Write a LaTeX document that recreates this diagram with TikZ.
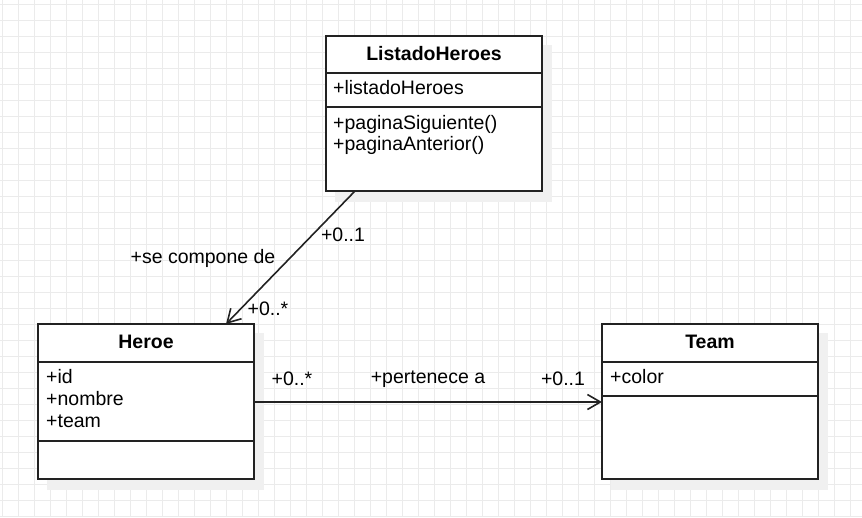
\documentclass[tikz,border=0pt]{standalone}
\usepackage{fontspec}
\setmainfont{Liberation Sans}
\usetikzlibrary{arrows.meta,calc}
\definecolor{gridc}{HTML}{EBEBEB}
\definecolor{shadowc}{HTML}{F0F0F0}
\definecolor{linec}{HTML}{222222}
\tikzset{
  classbox/.style={draw=linec, line width=1.6pt, fill=white, anchor=north west, minimum width=216pt, minimum height=155pt, inner sep=0pt, outer sep=0pt},
  sep/.style={draw=linec, line width=1.6pt},
  title/.style={font=\fontsize{19.5}{22}\selectfont\bfseries, anchor=center, inner sep=0pt},
  attr/.style={font=\fontsize{19.5}{22}\selectfont, anchor=west, inner sep=0pt},
  lbl/.style={font=\fontsize{19.5}{22}\selectfont, anchor=center, inner sep=0pt},
  conn/.style={draw=linec, line width=1.6pt, -{Straight Barb[length=13pt,width=15pt,line width=1.6pt]}},
}
\begin{document}
\begin{tikzpicture}[x=1pt,y=-1pt]
\useasboundingbox (0,0) rectangle (862,517);
% grid
\foreach \i in {0,...,54} {\draw[gridc, line width=1pt] ({2+16*\i},0) -- ({2+16*\i},517);}
\foreach \j in {0,...,32} {\draw[gridc, line width=1pt] (0,{4+16*\j}) -- (862,{4+16*\j});}
% shadows
\fill[shadowc] (335,45) rectangle (552,202);
\fill[shadowc] (47,333) rectangle (264,490);
\fill[shadowc] (611,333) rectangle (828,490);
% ListadoHeroes
\node[classbox] (listado) at (326,36) {};
\draw[sep] (326,73) -- (542,73);
\draw[sep] (326,107) -- (542,107);
\node[title] (listadoT) at (434,54) {ListadoHeroes};
\node[attr] (listadoA1) at (333,88) {+listadoHeroes};
\node[attr] (listadoM1) at (333,124) {+paginaSiguiente()};
\node[attr] (listadoM2) at (333,145) {+paginaAnterior()};
% Heroe
\node[classbox] (heroe) at (38,324) {};
\draw[sep] (38,362) -- (254,362);
\draw[sep] (38,441) -- (254,441);
\node[title] (heroeT) at (146,342) {Heroe};
\node[attr] (heroeA1) at (46,377) {+id};
\node[attr] (heroeA2) at (46,399) {+nombre};
\node[attr] (heroeA3) at (46,421) {+team};
% Team
\node[classbox] (team) at (602,324) {};
\draw[sep] (602,362) -- (818,362);
\draw[sep] (602,396) -- (818,396);
\node[title] (teamT) at (710,342) {Team};
\node[attr] (teamA1) at (610,377) {+color};
% connectors
\coordinate (c1s) at ($(listado.south west)+(29,0)$);
\coordinate (c1e) at ($(heroe.north west)+(188,0)$);
\draw[conn] (c1s) -- (c1e);
\coordinate (c2s) at ($(heroe.north east)+(0,78)$);
\coordinate (c2e) at ($(team.north west)+(0,78)$);
\draw[conn] (c2s) -- (c2e);
% labels
\node[lbl] (l1) at (343,235) {+0..1};
\node[lbl] (l2) at (203,258) {+se compone de};
\node[lbl] (l3) at (268,309) {+0..*};
\node[lbl] (l4) at (292,379) {+0..*};
\node[lbl] (l5) at (428,379) {+pertenece a};
\node[lbl] (l6) at (563,379) {+0..1};
\end{tikzpicture}
\end{document}
